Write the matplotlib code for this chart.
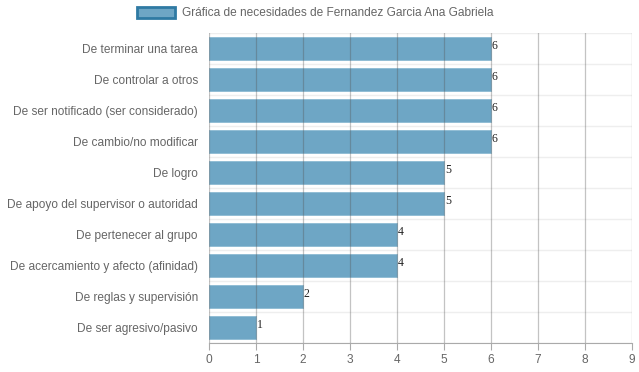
import matplotlib
matplotlib.use("Agg")
import matplotlib.pyplot as plt
from matplotlib.patches import Patch

categories = ["De terminar una tarea", "De controlar a otros", "De ser notificado (ser considerado)",
              "De cambio/no modificar", "De logro", "De apoyo del supervisor o autoridad",
              "De pertenecer al grupo", "De acercamiento y afecto (afinidad)",
              "De reglas y supervisión", "De ser agresivo/pasivo"]
values = [6, 6, 6, 6, 5, 5, 4, 4, 2, 1]
xticks = [0, 1, 2, 3, 4, 5, 6, 7, 8, 9]
title = "Gráfica de necesidades de Fernandez Garcia Ana Gabriela"

plt.rcParams['font.family'] = ['Liberation Sans', 'DejaVu Sans']
fig = plt.figure(figsize=(6.39, 3.72), dpi=100)
ax = fig.add_axes([209/639, 1-343/372, (632-209)/639, (343-33)/372])

n = len(categories)
ys = list(range(n))
bar_color = "#6ea6c5"
ax.barh(ys, values, height=0.72, color=bar_color, edgecolor="#8dbbd3", linewidth=0.6, zorder=2)
ax.set_ylim(n - 0.5, -0.5)
ax.set_xlim(0, 9)
ax.set_xticks(xticks)
ax.set_xticklabels([str(t) for t in xticks], color="#666666", fontsize=8.6)
ax.set_yticks(ys)
ax.set_yticklabels(categories, color="#666666", fontsize=8.6)
ax.tick_params(axis='y', length=0, pad=8)
ax.tick_params(axis='x', length=5, color="#aaaaaa", pad=3)

for x in xticks:
    ax.axvline(x, color="#555555", alpha=0.35, linewidth=0.9, zorder=3)
for i in range(n + 1):
    ax.axhline(i - 0.5, color="#eeeeee", linewidth=1.0, zorder=1)

for s in ['top', 'right', 'left']:
    ax.spines[s].set_visible(False)
ax.spines['bottom'].set_color("#aaaaaa")

for y, v in zip(ys, values):
    ax.text(v + 0.02, y - 0.08, str(v), fontsize=8.5, family='Liberation Serif',
            color="#222222", va='center', ha='left', zorder=4)

handle = Patch(facecolor=bar_color, edgecolor="#2f7aa3", linewidth=2)
fig.legend([handle], [title], loc='upper center', bbox_to_anchor=(0.493, 1.01),
           frameon=False, fontsize=8.6, handlelength=3.2, handleheight=1.0,
           handletextpad=0.6, labelcolor="#666666")

fig.savefig("out.png", dpi=100)
